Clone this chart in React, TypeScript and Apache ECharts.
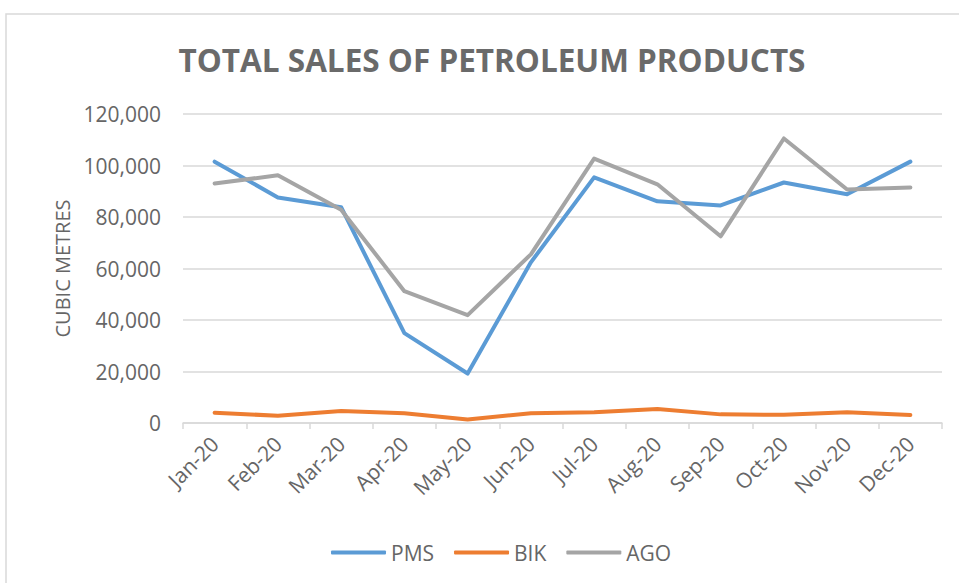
import React, { useEffect, useRef } from "react";
import * as echarts from "echarts";

const categories = ["Jan-20", "Feb-20", "Mar-20", "Apr-20", "May-20", "Jun-20", "Jul-20", "Aug-20", "Sep-20", "Oct-20", "Nov-20", "Dec-20"];
const pms = [101500, 87600, 83800, 34900, 19200, 62400, 95400, 86100, 84500, 93400, 88800, 101500];
const bik = [4000, 2800, 4650, 3750, 1400, 3750, 4150, 5400, 3350, 3200, 4150, 3100];
const ago = [93000, 96200, 82800, 51200, 41900, 65500, 102700, 92700, 72500, 110500, 90700, 91500];

const FONT = "'Open Sans', 'Liberation Sans', sans-serif";
const TXT = "#666666";

export default function App() {
  const ref = useRef<HTMLDivElement>(null);
  useEffect(() => {
    document.body.style.margin = "0";
    const chart = echarts.init(ref.current!, null, { renderer: "svg" });
    const line = (name: string, data: number[], color: string) => ({
      name,
      type: "line",
      data,
      symbol: "none",
      lineStyle: { width: 4, color, cap: "round", join: "round" },
      itemStyle: { color },
    });
    chart.setOption({
      animation: false,
      backgroundColor: "#ffffff",
      textStyle: { fontFamily: FONT },
      title: {
        text: "TOTAL SALES OF PETROLEUM PRODUCTS",
        left: 487,
        top: 38,
        textAlign: "center",
        textStyle: { fontFamily: FONT, fontSize: 31.5, fontWeight: "bold", color: "#6a6a6a" },
      },
      graphic: [
        {
          type: "rect",
          shape: { x: 6, y: 14, width: 1200, height: 1000 },
          style: { fill: "none", stroke: "#d9d9d9", lineWidth: 1.5 },
          silent: true,
        },
      ],
      legend: {
        top: 537,
        left: 326,
        itemWidth: 55,
        itemHeight: 4,
        itemGap: 20,
        icon: "roundRect",
        textStyle: { fontFamily: FONT, fontSize: 21, color: TXT },
        data: ["PMS", "BIK", "AGO"],
      },
      grid: { left: 183, right: 17, top: 114, bottom: 160 },
      xAxis: {
        type: "category",
        data: categories,
        boundaryGap: true,
        axisLine: { lineStyle: { color: "#d9d9d9", width: 1.5 } },
        axisTick: { show: true, length: 6, lineStyle: { color: "#d9d9d9", width: 1.5 } },
        axisLabel: { rotate: 45, color: TXT, fontSize: 21, fontFamily: FONT, margin: 17 },
      },
      yAxis: {
        type: "value",
        min: 0,
        max: 120000,
        interval: 20000,
        name: "CUBIC METRES",
        nameLocation: "middle",
        nameGap: 110,
        nameTextStyle: { color: TXT, fontSize: 20, fontFamily: FONT },
        axisLine: { show: false },
        axisTick: { show: false },
        splitLine: { lineStyle: { color: "#d9d9d9", width: 1.5 } },
        axisLabel: {
          color: TXT,
          fontSize: 21,
          fontFamily: FONT,
          margin: 22,
          formatter: (v: number) => v.toLocaleString("en-US"),
        },
      },
      series: [line("PMS", pms, "#5B9BD5"), line("BIK", bik, "#ED7D31"), line("AGO", ago, "#A5A5A5")],
    });
    return () => chart.dispose();
  }, []);
  return <div ref={ref} style={{ width: 959, height: 583 }} />;
}
